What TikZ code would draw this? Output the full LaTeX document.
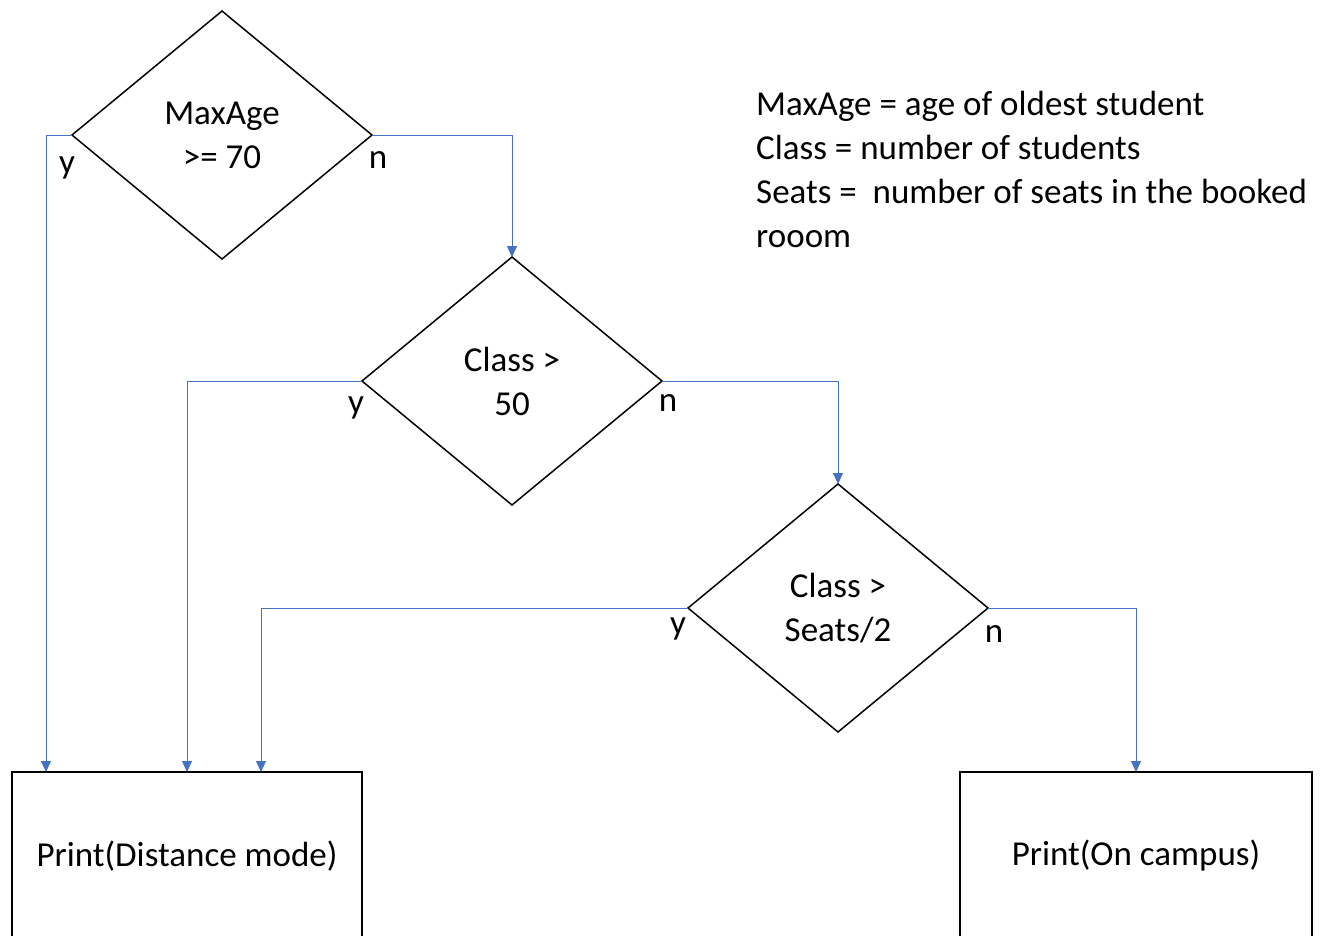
\documentclass[tikz,border=0pt]{standalone}
\usepackage{fontspec}
\setmainfont{Carlito}
\usetikzlibrary{shapes.geometric,arrows.meta}
\definecolor{connblue}{HTML}{4472C4}
\tikzset{
  txt/.style={font=\fontsize{35}{44}\selectfont, text=black},
  decision/.style={diamond, draw=black, line width=1.5pt, aspect=1.21,
    minimum width=300pt, minimum height=248pt, inner sep=0pt, outer sep=0pt,
    align=center, txt},
  outbox/.style={rectangle, draw=black, line width=1.5pt, minimum height=168pt,
    inner sep=0pt, outer sep=0pt, txt},
  conn/.style={draw=connblue, line width=1pt, -{Triangle[length=11pt,width=10pt]}},
  lbl/.style={txt, inner sep=0pt}
}
\begin{document}
\begin{tikzpicture}[x=1pt,y=-1pt]
\useasboundingbox (0,0) rectangle (1326,935);
\clip (0,0) rectangle (1326,935);

\node[decision] (d1) at (222,135) {MaxAge\\>= 70};
\node[decision] (d2) at (512,381) {Class >\\50};
\node[decision] (d3) at (838,608) {Class >\\Seats/2};

\node[outbox, minimum width=350pt] (b1) at (187,856) {Print(Distance mode)};
\node[outbox, minimum width=352pt] (b2) at (1136,856) {Print(On campus)};

\coordinate (in1) at (46,772);
\coordinate (in2) at (187,772);
\coordinate (in3) at (261,772);

\draw[conn] (d1.west) -| (in1);
\draw[conn] (d1.east) -| (d2.north);
\draw[conn] (d2.west) -| (in2);
\draw[conn] (d2.east) -| (d3.north);
\draw[conn] (d3.west) -| (in3);
\draw[conn] (d3.east) -| (b2.north);

\node[lbl] (y1) at (67,168) {y};
\node[lbl] (n1) at (378,160) {n};
\node[lbl] (y2) at (356,408) {y};
\node[lbl] (n2) at (668,403) {n};
\node[lbl] (y3) at (678,629) {y};
\node[lbl] (n3) at (994,634) {n};

\node[lbl, anchor=base west] (leg1) at (756,115) {MaxAge = age of oldest student};
\node[lbl, anchor=base west] (leg2) at (756,159) {Class = number of students};
\node[lbl, anchor=base west] (leg3) at (756,203) {Seats =\ \ number of seats in the booked};
\node[lbl, anchor=base west] (leg4) at (756,247) {rooom};
\end{tikzpicture}
\end{document}
